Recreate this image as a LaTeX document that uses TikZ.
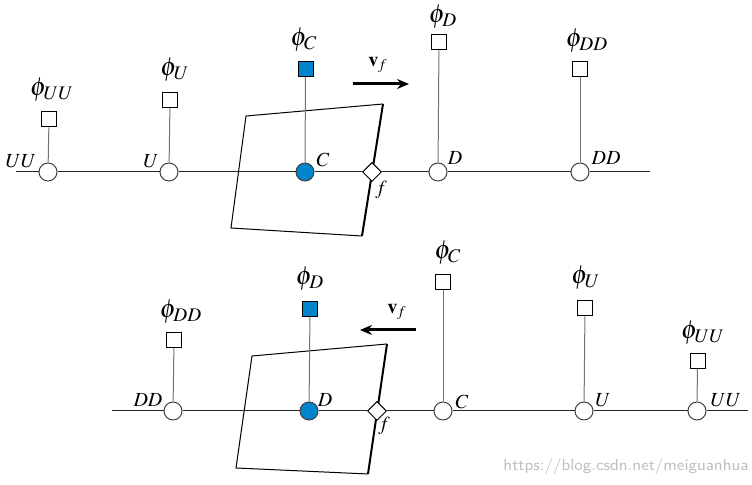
\documentclass[tikz,border=0pt]{standalone}
\usepackage{xcolor}
\usepackage{mathptmx}
\usepackage{tikz}
\usetikzlibrary{positioning, shapes.geometric, arrows.meta}
\definecolor{cellblue}{RGB}{0,133,204}

\begin{document}
\begin{tikzpicture}[
    x=0.5pt, y=-0.5pt,
    every node/.style={font=\normalsize, inner sep=1pt},
    cell/.style={circle, draw=black!75, fill=white, minimum size=9pt, inner sep=0pt, line width=0.5pt},
    face/.style={diamond, draw, fill=white, minimum size=9.5pt, inner sep=0pt, line width=0.5pt},
    val/.style={rectangle, draw, fill=white, minimum size=7.5pt, inner sep=0pt, line width=0.5pt},
    philabel/.style={font=\fontsize{13}{15}\selectfont},
    stem/.style={draw=black!55, line width=0.5pt},
    axis/.style={draw=black!85, line width=0.5pt},
    cv/.style={draw, line width=0.5pt},
]
\useasboundingbox (0,0) rectangle (752,485);

% Control volumes
\draw[cv] (383,104) -- (246,116) -- (231,228) -- (362,236);
\draw[cv, line width=1pt] (383,104) -- (362,236);
\draw[cv] (387,344) -- (252,356) -- (236,468) -- (368,474);
\draw[cv, line width=1pt] (387,344) -- (368,474);

% Row 1 (flow to the right)
\coordinate (ta) at (16,172);
\coordinate (tb) at (650,172);
\node[cell] (tUU) at (48,172) {};
\node[cell] (tU) at (169,172) {};
\node[cell, fill=cellblue] (tC) at (305,172) {};
\node[face] (tf) at (372,172) {};
\node[cell] (tD) at (438,172) {};
\node[cell] (tDD) at (580,172) {};

\node[val] (tsUU) at (49,119.5) {};
\node[val] (tsU) at (170,100) {};
\node[val, fill=cellblue] (tsC) at (305.5,69) {};
\node[val] (tsD) at (439,42) {};
\node[val] (tsDD) at (580,69.5) {};

\node[philabel] (tpUU) at (52,90) {$\phi_{UU}$};
\node[philabel] (tpU) at (175,70) {$\phi_{U}$};
\node[philabel] (tpC) at (304,40) {$\phi_{C}$};
\node[philabel] (tpD) at (443,17) {$\phi_{D}$};
\node[philabel] (tpDD) at (587,41) {$\phi_{DD}$};

\node (tlUU) at (21,161) {$UU$};
\node (tlU) at (151,161) {$U$};
\node (tlC) at (323,160) {$C$};
\node (tlD) at (455,158) {$D$};
\node (tlDD) at (606,158) {$DD$};
\node (tlf) at (381,190) {$f$};

\coordinate (tva) at (353,84);
\coordinate (tvb) at (409,84);
\node (tv) at (378,65) {$\mathbf{v}_{f}$};

% Row 2 (flow to the left)
\coordinate (ba) at (112,411);
\coordinate (bb) at (748,411);
\node[cell] (bDD) at (173,411) {};
\node[cell, fill=cellblue] (bD) at (309,411) {};
\node[face] (bf) at (377,411) {};
\node[cell] (bC) at (443,411) {};
\node[cell] (bU) at (584,411) {};
\node[cell] (bUU) at (697,411) {};

\node[val] (bsDD) at (174,340) {};
\node[val, fill=cellblue] (bsD) at (310,309) {};
\node[val] (bsC) at (443,282) {};
\node[val] (bsU) at (585,308.5) {};
\node[val] (bsUU) at (697.5,361) {};

\node[philabel] (bpDD) at (181,312) {$\phi_{DD}$};
\node[philabel] (bpD) at (310,279) {$\phi_{D}$};
\node[philabel] (bpC) at (448,253) {$\phi_{C}$};
\node[philabel] (bpU) at (586,278) {$\phi_{U}$};
\node[philabel] (bpUU) at (703,333) {$\phi_{UU}$};

\node (blDD) at (148,400) {$DD$};
\node (blD) at (325,400) {$D$};
\node (blC) at (462,402) {$C$};
\node (blU) at (603,400) {$U$};
\node (blUU) at (726,400) {$UU$};
\node (blf) at (384,426) {$f$};

\coordinate (bva) at (416,330);
\coordinate (bvb) at (360,330);
\node (bv) at (397,312) {$\mathbf{v}_{f}$};

% Grid lines
\draw[axis] (ta) -- (tUU) -- (tU) -- (tC) -- (tf) -- (tD) -- (tDD) -- (tb);
\draw[axis] (ba) -- (bDD) -- (bD) -- (bf) -- (bC) -- (bU) -- (bUU) -- (bb);

% Stems from values to cells
\draw[stem] (tsUU) -- (tUU);
\draw[stem] (tsU) -- (tU);
\draw[stem] (tsC) -- (tC);
\draw[stem] (tsD) -- (tD);
\draw[stem] (tsDD) -- (tDD);
\draw[stem] (bsDD) -- (bDD);
\draw[stem] (bsD) -- (bD);
\draw[stem] (bsC) -- (bC);
\draw[stem] (bsU) -- (bU);
\draw[stem] (bsUU) -- (bUU);

% Face velocities
\draw[->, >={Stealth[length=6pt, width=5pt, inset=2pt]}, line width=1.5pt] (tva) -- (tvb);
\draw[->, >={Stealth[length=6pt, width=5pt, inset=2pt]}, line width=1.5pt] (bva) -- (bvb);

\node[text=black!25, font=\sffamily\footnotesize] (wm) at (626,467) {https://blog.csdn.net/meiguanhua};
\end{tikzpicture}
\end{document}
